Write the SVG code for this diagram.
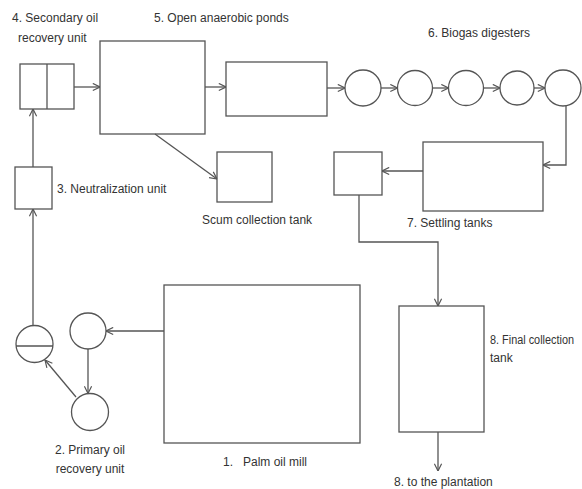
<svg xmlns="http://www.w3.org/2000/svg" width="582" height="489" viewBox="0 0 582 489">
<style>
.s{fill:none;stroke:#555;stroke-width:1.3}
.c{fill:none;stroke:#555;stroke-width:1.3}
text{font-family:"Liberation Sans",Arial,sans-serif;font-size:12px;fill:#333}
</style>
<defs>
<marker id="a" viewBox="0 0 10 10" refX="10" refY="5" markerWidth="9" markerHeight="9" markerUnits="userSpaceOnUse" orient="auto">
<path d="M2,1 L10,5 L2,9" fill="none" stroke="#555" stroke-width="1.3"/>
</marker>
</defs>
<rect width="582" height="489" fill="#fff"/>
<g id="n4"><rect class="s" x="20" y="64" width="54" height="45"/><line class="s" x1="47" y1="64" x2="47" y2="109"/>
<text x="12" y="22">4. Secondary oil</text><text x="18" y="42">recovery unit</text></g>
<g id="n5"><rect class="s" x="100" y="41" width="105" height="93"/><rect class="s" x="226" y="62" width="101" height="54"/>
<text x="154" y="22">5. Open anaerobic ponds</text></g>
<g id="n6"><circle class="c" cx="363" cy="88" r="18"/><circle class="c" cx="415" cy="88" r="17.5"/><circle class="c" cx="466" cy="88" r="17.5"/><circle class="c" cx="517" cy="88" r="17"/><circle class="c" cx="563" cy="88" r="18"/>
<text x="428" y="37">6. Biogas digesters</text></g>
<g id="n7"><rect class="s" x="423" y="142" width="120" height="69"/><rect class="s" x="334" y="152" width="48" height="43"/>
<text x="407" y="227">7. Settling tanks</text></g>
<g id="scum"><rect class="s" x="217" y="152" width="55" height="50"/><text x="202" y="224">Scum collection tank</text></g>
<g id="n3"><rect class="s" x="15" y="167" width="37" height="42"/><text x="57" y="193">3. Neutralization unit</text></g>
<g id="n1"><rect class="s" x="164" y="285" width="196" height="158"/><text x="223" y="466" xml:space="preserve">1.   Palm oil mill</text></g>
<g id="n2"><circle class="c" cx="88" cy="331" r="18"/><circle class="c" cx="90" cy="412" r="18.5"/><circle class="c" cx="34.5" cy="344" r="18.5"/><line class="s" x1="16" y1="346" x2="53" y2="346"/>
<text x="90" y="454" text-anchor="middle">2. Primary oil</text><text x="90" y="473" text-anchor="middle">recovery unit</text></g>
<g id="n8"><rect class="s" x="399" y="306" width="85" height="126"/><text x="490" y="344" textLength="84" lengthAdjust="spacingAndGlyphs">8. Final collection</text><text x="490" y="362">tank</text>
<text x="394" y="486">8. to the plantation</text></g>
<g id="connectors" class="s">
<line x1="74" y1="87" x2="100" y2="87" marker-end="url(#a)"/>
<line x1="205" y1="87" x2="226" y2="87" marker-end="url(#a)"/>
<line x1="327" y1="88" x2="345" y2="88" marker-end="url(#a)"/>
<line x1="381" y1="88" x2="397.5" y2="88" marker-end="url(#a)"/>
<line x1="432.5" y1="88" x2="448.5" y2="88" marker-end="url(#a)"/>
<line x1="483.5" y1="88" x2="500" y2="88" marker-end="url(#a)"/>
<line x1="534" y1="88" x2="545" y2="88" marker-end="url(#a)"/>
<polyline points="566,106 566,165 543,165" marker-end="url(#a)"/>
<line x1="423" y1="171" x2="382" y2="171" marker-end="url(#a)"/>
<polyline points="359,195 359,242 438,242 438,306" marker-end="url(#a)"/>
<line x1="438" y1="432" x2="438" y2="471" marker-end="url(#a)"/>
<line x1="155" y1="134" x2="217" y2="179" marker-end="url(#a)"/>
<line x1="164" y1="331" x2="106" y2="331" marker-end="url(#a)"/>
<line x1="88" y1="349" x2="88" y2="393.5" marker-end="url(#a)"/>
<line x1="76" y1="397" x2="45" y2="360" marker-end="url(#a)"/>
<line x1="33" y1="325.5" x2="33" y2="209" marker-end="url(#a)"/>
<line x1="33" y1="167" x2="33" y2="109" marker-end="url(#a)"/>
</g>
</svg>
